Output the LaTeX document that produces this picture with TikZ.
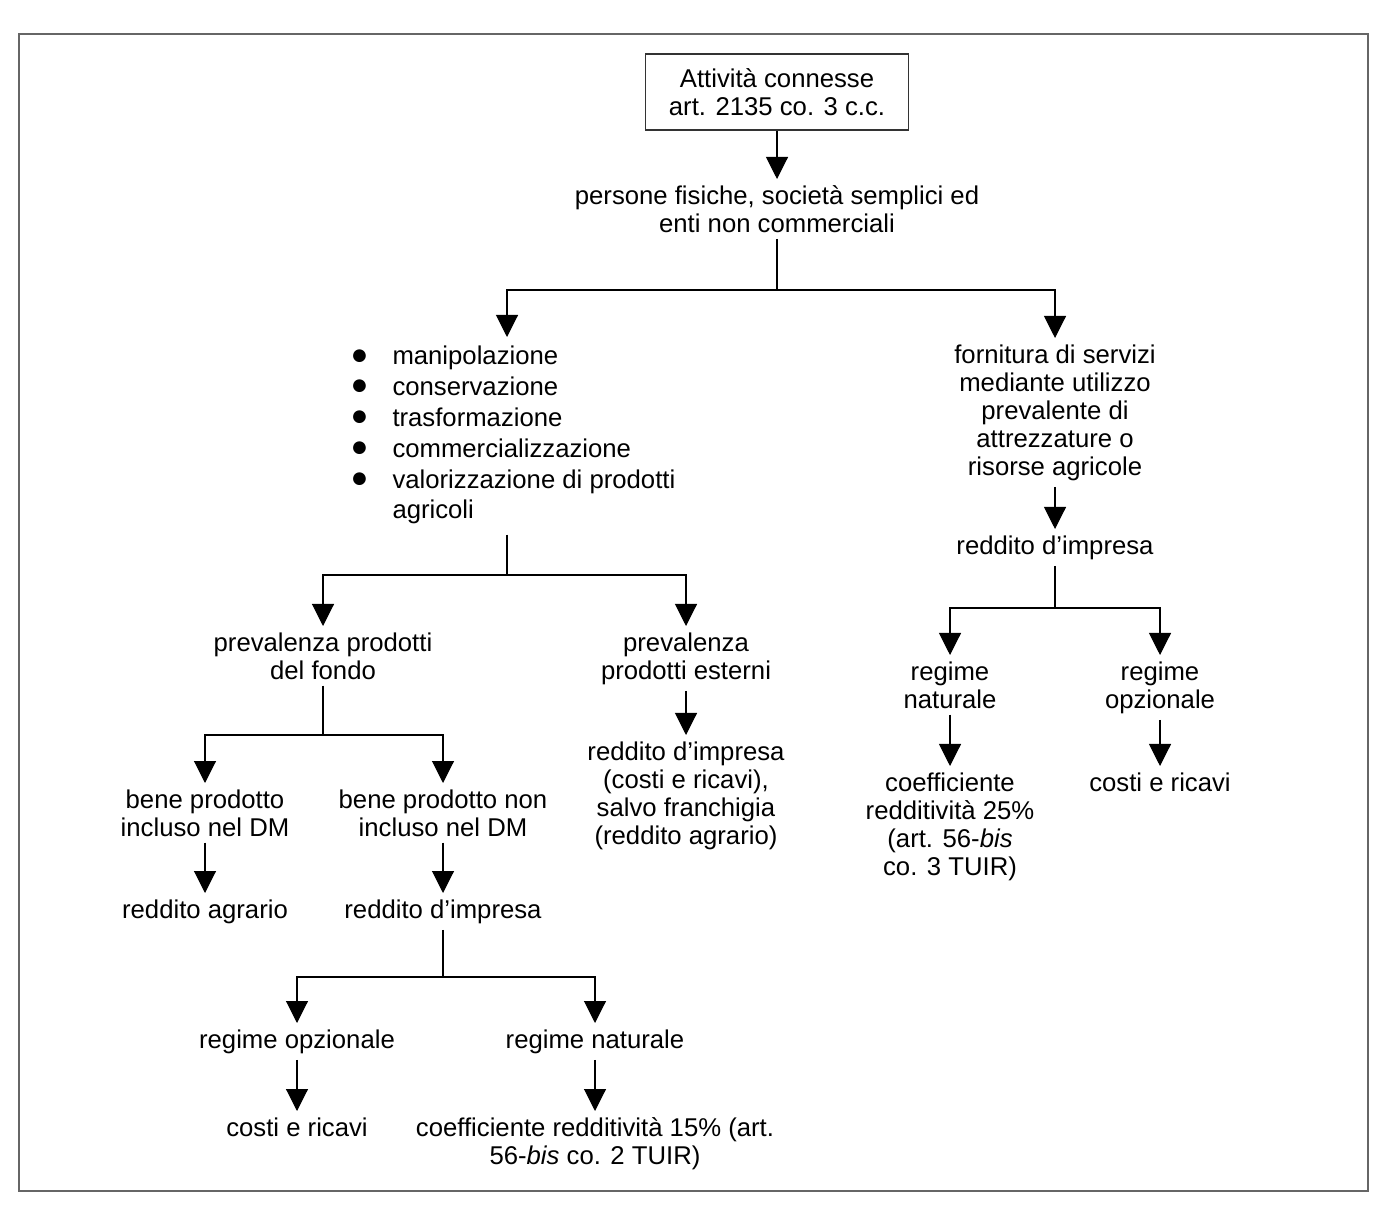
\documentclass[tikz,border=0pt]{standalone}
\usepackage{fontspec}
\setmainfont{Liberation Sans}
\usepackage{tikz}
\tikzset{
  voce/.style={align=center, inner xsep=2pt, inner ysep=3pt, anchor=north},
  titolo/.style={draw=black!80, line width=0.6pt,
                 minimum width=131.5pt, minimum height=38pt,
                 align=center, inner sep=2pt},
  freccia/.style={-{Triangle[width=11pt,length=11pt]}, line width=0.55pt},
  ramo/.style={line width=0.55pt}
}
\usetikzlibrary{arrows.meta}
\newcommand{\pallino}{\raisebox{0.4pt}{\scalebox{1.15}{●}}}

\begin{document}
\begin{tikzpicture}[x=0.5pt, y=-0.5pt, font=\fontsize{12.85pt}{14pt}\selectfont]
    \useasboundingbox (0,0) rectangle (1397,1218);
    \draw[black!60, line width=1pt] (19,34) rectangle (1368,1191);

    % vertice e soggetti
    \node[titolo] (att) at (777,92) {Attività connesse\\art. 2135 co. 3 c.c.};
    \node[voce] (pers) at (777,179) {persone fisiche, società semplici ed\\enti non commerciali};

    % ramo sinistro: attività sui prodotti
    \node[voce] (lav) at (507,337) {\renewcommand{\arraystretch}{1.1}%
      \begin{tabular}{@{\hspace{6pt}}l@{\hspace{12pt}}l@{}}
        \pallino & manipolazione\\
        \pallino & conservazione\\
        \pallino & trasformazione\\
        \pallino & commercializzazione\\
        \pallino & valorizzazione di prodotti\\
                 & agricoli
      \end{tabular}};
    \node[voce] (fondo) at (323,626) {prevalenza prodotti\\del fondo};
    \node[voce] (est) at (686,626) {prevalenza\\prodotti esterni};
    \node[voce] (redest) at (686,735) {reddito d’impresa\\(costi e ricavi),\\salvo franchigia\\(reddito agrario)};
    \node[voce] (incl) at (205,783) {bene prodotto\\incluso nel DM};
    \node[voce] (nonincl) at (443,783) {bene prodotto non\\incluso nel DM};
    \node[voce] (agr) at (205,893) {reddito agrario};
    \node[voce] (rimp) at (443,893) {reddito d’impresa};
    \node[voce] (ropz) at (297,1023) {regime opzionale};
    \node[voce] (rnat) at (595,1023) {regime naturale};
    \node[voce] (costi) at (297,1111) {costi e ricavi};
    \node[voce] (coef15) at (595,1111) {coefficiente redditività 15\% (art.\\56-\textit{bis} co. 2 TUIR)};

    % ramo destro: servizi
    \node[voce] (serv) at (1055,338) {fornitura di servizi\\mediante utilizzo\\prevalente di\\attrezzature o\\risorse agricole};
    \node[voce] (rimpS) at (1055,529) {reddito d’impresa};
    \node[voce] (rnatS) at (950,655) {regime\\naturale};
    \node[voce] (ropzS) at (1160,655) {regime\\opzionale};
    \node[voce] (coef25) at (950,766) {coefficiente\\redditività 25\%\\(art. 56-\textit{bis}\\co. 3 TUIR)};
    \node[voce] (costiS) at (1160,766) {costi e ricavi};

    % punti di diramazione
    \coordinate (d1) at (777,290);
    \coordinate (d2) at (507,575);
    \coordinate (d3) at (323,735);
    \coordinate (d4) at (443,977);
    \coordinate (d5) at (1055,608);

    \draw[freccia] (att) -- (pers);
    \draw[ramo] (pers) -- (d1);
    \draw[freccia] (d1) -| (lav);
    \draw[freccia] (d1) -| (serv);

    \draw[ramo] (lav) -- (d2);
    \draw[freccia] (d2) -| (fondo);
    \draw[freccia] (d2) -| (est);
    \draw[freccia] (est) -- (redest);

    \draw[ramo] (fondo) -- (d3);
    \draw[freccia] (d3) -| (incl);
    \draw[freccia] (d3) -| (nonincl);
    \draw[freccia] (incl) -- (agr);
    \draw[freccia] (nonincl) -- (rimp);

    \draw[ramo] (rimp) -- (d4);
    \draw[freccia] (d4) -| (ropz);
    \draw[freccia] (d4) -| (rnat);
    \draw[freccia] (ropz) -- (costi);
    \draw[freccia] (rnat) -- (coef15);

    \draw[freccia] (serv) -- (rimpS);
    \draw[ramo] (rimpS) -- (d5);
    \draw[freccia] (d5) -| (rnatS);
    \draw[freccia] (d5) -| (ropzS);
    \draw[freccia] (rnatS) -- (coef25);
    \draw[freccia] (ropzS) -- (costiS);
\end{tikzpicture}
\end{document}
